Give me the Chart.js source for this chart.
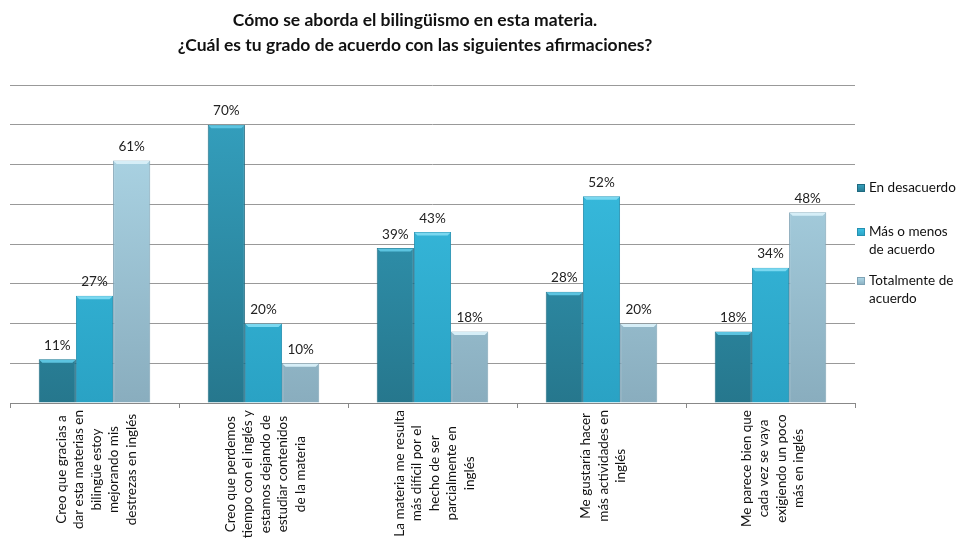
<!DOCTYPE html>
<html>
<head>
<meta charset="utf-8">
<script src="https://cdn.jsdelivr.net/npm/chart.js@4"></script>
<style>
  body { margin: 0; background: #fff; }
  #wrap { position: relative; width: 966px; height: 540px; }
  #title { position: absolute; left: 0; top: 7px; width: 830px; text-align: center;
           font: bold 17.5px Lato, sans-serif; line-height: 25px; color: #111; }
</style>
</head>
<body>
<div id="wrap">
  <div id="title">Cómo se aborda el bilingüismo en esta materia.<br>¿Cuál es tu grado de acuerdo con las siguientes afirmaciones?</div>
  <canvas id="chart" width="966" height="540"></canvas>
</div>
<script>
// categories (one array of lines per group)
const categories = [
  ['Creo que gracias a', 'dar esta materias en', 'bilingüe estoy', 'mejorando mis', 'destrezas en inglés'],
  ['Creo que perdemos', 'tiempo con el inglés y', 'estamos dejando de', 'estudiar contenidos', 'de la materia'],
  ['La materia me resulta', 'más difícil por el', 'hecho de ser', 'parcialmente en', 'inglés'],
  ['Me gustaría hacer', 'más actividades en', 'inglés'],
  ['Me parece bien que', 'cada vez se vaya', 'exigiendo un poco', 'más en inglés']
];
const seriesNames = ['En desacuerdo', ['Más o menos', 'de acuerdo'], ['Totalmente de', 'acuerdo']];
const enDesacuerdo = [11, 70, 39, 28, 18];
const masOMenos = [27, 20, 43, 52, 34];
const totalmente = [61, 10, 18, 20, 48];

// gradient stops: top colour, bottom colour, border, bevel
const palette = [
  ['#35a3c2', '#26778d', '#1f6a80', '#5cc4e0'],
  ['#3cc3e6', '#2aa2c4', '#2590b0', '#7ad8f0'],
  ['#b2dcec', '#89adbe', '#7fa3b5', '#d6eef7']
];

function grad(i) {
  return function (ctx) {
    const area = ctx.chart.chartArea;
    if (!area) return palette[i][0];
    const g = ctx.chart.ctx.createLinearGradient(0, area.top, 0, area.bottom);
    g.addColorStop(0, palette[i][0]);
    g.addColorStop(1, palette[i][1]);
    return g;
  };
}

const valueLabels = {
  id: 'valueLabels',
  afterDatasetsDraw(chart) {
    const c = chart.ctx;
    c.save();
    chart.data.datasets.forEach((ds, di) => {
      chart.getDatasetMeta(di).data.forEach((bar, i) => {
        // light bevel on top of each bar
        const half = bar.width / 2;
        c.fillStyle = palette[di][3];
        c.beginPath();
        c.moveTo(bar.x - half + 0.5, bar.y + 0.5);
        c.lineTo(bar.x + half - 0.5, bar.y + 0.5);
        c.lineTo(bar.x + half - 3.5, bar.y + 3.5);
        c.lineTo(bar.x - half + 3.5, bar.y + 3.5);
        c.closePath();
        c.fill();
      });
    });
    c.font = '13.5px Lato, sans-serif';
    c.fillStyle = '#222';
    c.textAlign = 'center';
    c.textBaseline = 'bottom';
    chart.data.datasets.forEach((ds, di) => {
      chart.getDatasetMeta(di).data.forEach((bar, i) => {
        c.fillText(ds.data[i] + '%', bar.x, bar.y - 7);
      });
    });
    c.restore();
  }
};

const categoryLabels = {
  id: 'categoryLabels',
  afterDraw(chart) {
    const c = chart.ctx;
    const xs = chart.scales.x;
    const lh = 17.5;
    c.save();
    c.font = '13.5px Lato, sans-serif';
    c.fillStyle = '#111';
    c.textAlign = 'center';
    c.textBaseline = 'middle';
    chart.data.labels.forEach((lines, i) => {
      const cx = xs.getPixelForTick(i) + 2;
      const w = Math.max(...lines.map(l => c.measureText(l).width));
      const cy = chart.chartArea.bottom + 7 + w / 2;
      lines.forEach((line, k) => {
        const lx = cx + (k - (lines.length - 1) / 2) * lh;
        c.save();
        c.translate(lx, cy);
        c.rotate(-Math.PI / 2);
        c.fillText(line, 0, 0);
        c.restore();
      });
    });
    c.restore();
  }
};

const sideLegend = {
  id: 'sideLegend',
  afterDraw(chart) {
    const c = chart.ctx;
    const tops = [188, 232, 281];
    c.save();
    c.font = '13.5px Lato, sans-serif';
    c.textBaseline = 'middle';
    c.textAlign = 'left';
    seriesNames.forEach((name, i) => {
      const lines = Array.isArray(name) ? name : [name];
      const g = c.createLinearGradient(0, tops[i] - 4, 0, tops[i] + 4);
      g.addColorStop(0, palette[i][0]);
      g.addColorStop(1, palette[i][1]);
      c.fillStyle = g;
      c.fillRect(857, tops[i] - 4, 8, 8);
      c.strokeStyle = palette[i][2];
      c.lineWidth = 1;
      c.strokeRect(857.5, tops[i] - 3.5, 7, 7);
      c.fillStyle = '#111';
      lines.forEach((l, k) => c.fillText(l, 869, tops[i] + k * 18));
    });
    c.restore();
  }
};

new Chart(document.getElementById('chart'), {
  type: 'bar',
  data: {
    labels: categories,
    datasets: [enDesacuerdo, masOMenos, totalmente].map((d, i) => ({
      label: Array.isArray(seriesNames[i]) ? seriesNames[i].join(' ') : seriesNames[i],
      data: d,
      backgroundColor: grad(i),
      borderColor: palette[i][2],
      borderWidth: 1,
      categoryPercentage: 0.66,
      barPercentage: 1
    }))
  },
  options: {
    responsive: false,
    animation: false,
    layout: { padding: { left: 10, right: 111, top: 85, bottom: 132 } },
    plugins: { legend: { display: false }, title: { display: false }, tooltip: { enabled: false } },
    scales: {
      x: {
        grid: { drawOnChartArea: false, drawTicks: true, tickLength: 5, color: '#888', offset: true },
        border: { color: '#888' },
        ticks: { display: false }
      },
      y: {
        min: 0, max: 80,
        ticks: { display: false, stepSize: 10 },
        grid: { color: '#999', drawTicks: false },
        border: { display: false }
      }
    }
  },
  plugins: [valueLabels, categoryLabels, sideLegend]
});
</script>
</body>
</html>
